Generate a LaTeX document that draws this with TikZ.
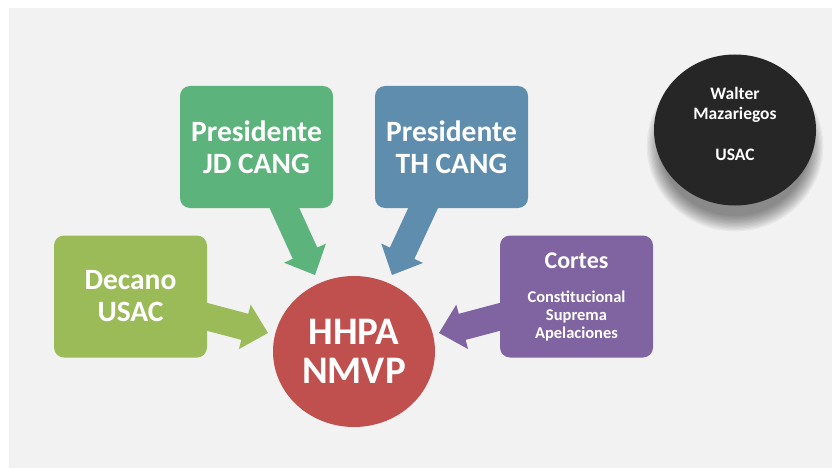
\documentclass[tikz,border=0pt]{standalone}
\usepackage{fontspec}
\setmainfont{Carlito}
\usetikzlibrary{calc,shapes.geometric}

\definecolor{panelgray}{HTML}{F2F2F2}
\definecolor{cgreen}{HTML}{5CB37B}
\definecolor{cblue}{HTML}{5F8DAE}
\definecolor{colive}{HTML}{9BBB59}
\definecolor{cred}{HTML}{C0504D}
\definecolor{cpurple}{HTML}{8064A2}
\definecolor{cdark}{HTML}{262626}

% block arrow from #1 to the tip #2, filled with #3
\newcommand{\blockarrow}[3]{%
  \path ($(#2)!24pt!(#1)$) coordinate (hb);
  \fill[#3] ($(#1)!13.5pt!90:(#2)$) -- ($(hb)!13.5pt!90:(#2)$)
    -- ($(hb)!23pt!90:(#2)$) -- (#2) -- ($(hb)!23pt!-90:(#2)$)
    -- ($(hb)!13.5pt!-90:(#2)$) -- ($(#1)!13.5pt!-90:(#2)$) -- cycle;
}

\tikzset{
  card/.style={fill=#1, rounded corners=10pt, minimum width=153pt,
    minimum height=122pt, text=white, align=center, inner sep=0pt,
    font=\bfseries\fontsize{29.5}{32}\selectfont},
}

\begin{document}
\begin{tikzpicture}[x=1pt, y=-1pt]
  \useasboundingbox (0,0) rectangle (832,468);
  \fill[panelgray] (9,8) rectangle (832,468);

  % card centres and arrow tips
  \coordinate (cjd) at (256.5,147);
  \coordinate (cth) at (451.5,147);
  \coordinate (cdec) at (130.5,296.5);
  \coordinate (ccor) at (576.5,296.5);
  \coordinate (tjd) at (315,275);
  \coordinate (tth) at (392,275);
  \coordinate (tdec) at (268,333);
  \coordinate (tcor) at (439,333);

  % arrows, drawn beneath the cards
  \blockarrow{cjd}{tjd}{cgreen}
  \blockarrow{cth}{tth}{cblue}
  \blockarrow{cdec}{tdec}{colive}
  \blockarrow{ccor}{tcor}{cpurple}

  % central disc
  \node[ellipse, fill=cred, minimum width=162pt, minimum height=151pt, inner sep=0pt,
    text=white, align=center, font=\bfseries\fontsize{39}{39}\selectfont]
    (hh) at (354,351.5) {HHPA\\NMVP};

  % surrounding cards
  \node[card=cgreen] (jd) at (cjd) {Presidente\\JD CANG};
  \node[card=cblue] (th) at (cth) {Presidente\\TH CANG};
  \node[card=colive] (dec) at (cdec) {Decano\\USAC};
  \node[card=cpurple, font=\bfseries\fontsize{16.5}{18}\selectfont] (cor) at (ccor)
    {{\fontsize{24}{26}\selectfont Cortes}\\[16pt]Constitucional\\Suprema\\Apelaciones};

  % soft shadow under the dark badge
  \foreach \k in {0,...,11}
    \fill[black, opacity=0.045] (735,146) ellipse ({74+\k*1.3} and {70+\k*1.4});

  % dark badge
  \node[ellipse, fill=cdark, minimum width=162pt, minimum height=151pt, inner sep=0pt]
    (wm) at (735,130) {};
  \node[text=white, align=center, font=\bfseries\fontsize{17.5}{20}\selectfont]
    (wmtxt) at (735,124) {Walter\\Mazariegos\\[21pt]USAC};
\end{tikzpicture}
\end{document}
